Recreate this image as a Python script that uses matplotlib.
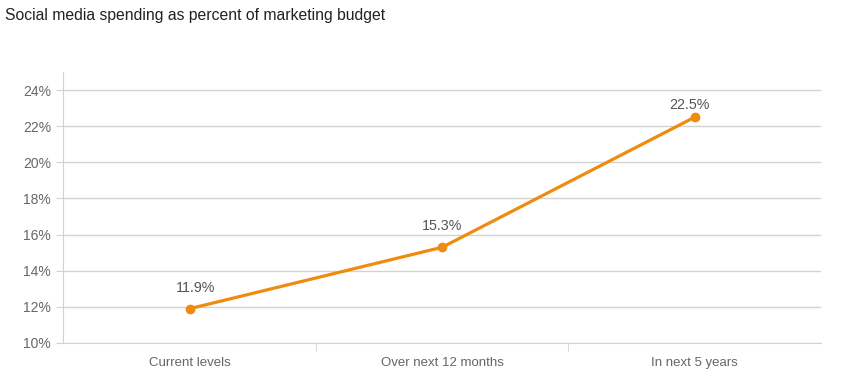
import numpy as np
import matplotlib.pyplot as plt
from matplotlib.ticker import FixedLocator

plt.rcParams['font.family'] = ['Liberation Sans', 'DejaVu Sans']

# datos
categorias = ['Current levels', 'Over next 12 months', 'In next 5 years']
valores = [11.9, 15.3, 22.5]
ticks_y = [10, 12, 14, 16, 18, 20, 22, 24]

naranja = '#ef8c0e'
gris_linea = '#d2d2d2'
gris_texto = '#666666'

fig = plt.figure(figsize=(8.42, 3.86), dpi=100)
ax = fig.add_axes([0.0754, 0.1114, 0.8996, 0.7021])

x = np.arange(len(categorias))
ax.plot(x, valores, color=naranja, linewidth=2.3, marker='o', markersize=6, zorder=3)

# la ultima etiqueta va mas pegada al punto
desplaz = [(4, 10), (0, 10), (-4, 4)]
for xi, v, d in zip(x, valores, desplaz):
    ax.annotate(f'{v}%', (xi, v), xytext=d, textcoords='offset points',
                ha='center', va='bottom', fontsize=10.3, color='#555555')

ax.set_xlim(-0.5, len(categorias) - 0.5)
ax.set_ylim(10, 25)
ax.set_yticks(ticks_y)
ax.set_yticklabels([f'{t}%' for t in ticks_y])
ax.set_xticks(x)
ax.set_xticklabels(categorias)
ax.xaxis.set_minor_locator(FixedLocator([0.5, 1.5]))

ax.grid(axis='y', color=gris_linea, linewidth=1)
ax.set_axisbelow(True)

for lado in ['top', 'right']:
    ax.spines[lado].set_visible(False)
ax.spines['left'].set_color(gris_linea)
ax.spines['bottom'].set_color(gris_linea)

ax.tick_params(axis='y', length=5, color=gris_linea, labelsize=10, labelcolor=gris_texto, pad=4)
ax.tick_params(axis='x', which='major', length=0, labelsize=9.5, labelcolor=gris_texto, pad=10)
ax.tick_params(axis='x', which='minor', length=6, color=gris_linea)

fig.text(0.006, 0.96, 'Social media spending as percent of marketing budget',
         fontsize=11.3, color='#222222', ha='left', va='center')

fig.savefig('out.png', dpi=100)
